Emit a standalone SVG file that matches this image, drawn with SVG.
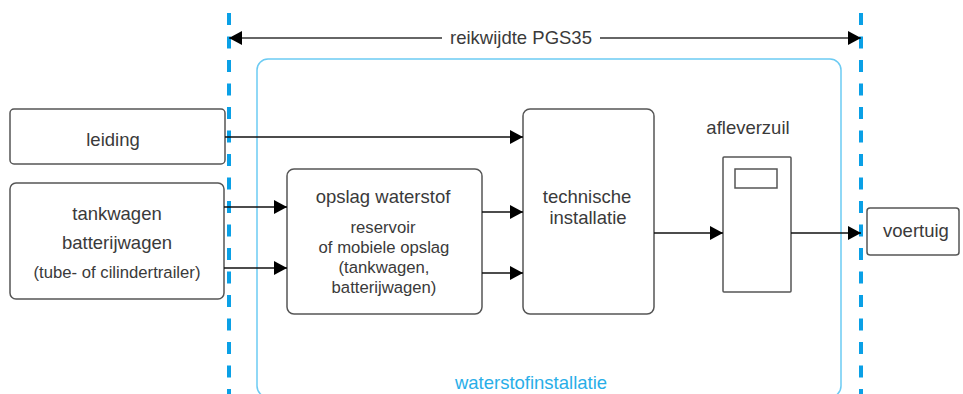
<svg xmlns="http://www.w3.org/2000/svg" width="963" height="394" viewBox="0 0 963 394">
  <style>
    .box { fill: #ffffff; stroke: #555555; stroke-width: 1.5; }
    .lbl { font-family: "Liberation Sans", Arial, sans-serif; font-size: 18.5px; fill: #3a3a3a; text-anchor: middle; }
    .sub { font-family: "Liberation Sans", Arial, sans-serif; font-size: 16.7px; fill: #3a3a3a; text-anchor: middle; }
    .flow { stroke: #111111; stroke-width: 1.5; fill: none; marker-end: url(#head); }
    .scope { stroke: #0aa0e6; stroke-width: 4; stroke-dasharray: 12 11.5; fill: none; }
  </style>
  <defs>
    <marker id="head" markerUnits="userSpaceOnUse" markerWidth="13" markerHeight="14" refX="13" refY="7" orient="auto-start-reverse">
      <path d="M0,0 L13,7 L0,14 z" fill="#000000"/>
    </marker>
  </defs>

  <rect width="963" height="394" fill="#ffffff"/>

  <!-- installation boundary -->
  <g id="waterstofinstallatie">
    <rect x="257" y="59" width="584" height="338" rx="11" fill="none" stroke="#6ccbf3" stroke-width="1.5"/>
    <text x="531" y="389" font-family="Liberation Sans, Arial, sans-serif" font-size="18.5" fill="#29aee8" text-anchor="middle">waterstofinstallatie</text>
  </g>

  <!-- scope markers -->
  <g id="scope">
    <line class="scope" x1="229" y1="13" x2="229" y2="394"/>
    <line class="scope" x1="861" y1="13" x2="861" y2="394"/>
    <line x1="229" y1="38" x2="861" y2="38" stroke="#333333" stroke-width="1.5" marker-start="url(#head)" marker-end="url(#head)"/>
    <rect x="442" y="26" width="158" height="24" fill="#ffffff"/>
    <text class="lbl" x="521" y="44">reikwijdte PGS35</text>
  </g>

  <g id="leiding">
    <rect class="box" x="10" y="109" width="215" height="55" rx="4"/>
    <text class="lbl" x="113" y="146">leiding</text>
  </g>

  <g id="tankwagen">
    <rect class="box" x="10" y="183" width="214" height="116" rx="6"/>
    <text class="lbl" x="117" y="220">tankwagen</text>
    <text class="lbl" x="117" y="249">batterijwagen</text>
    <text class="sub" x="117" y="278">(tube- of cilindertrailer)</text>
  </g>

  <g id="opslag">
    <rect class="box" x="287" y="169" width="195" height="145" rx="7"/>
    <text class="lbl" x="383" y="203">opslag waterstof</text>
    <text class="sub" x="383" y="233">reservoir</text>
    <text class="sub" x="384" y="253">of mobiele opslag</text>
    <text class="sub" x="384" y="273">(tankwagen,</text>
    <text class="sub" x="384" y="293">batterijwagen)</text>
  </g>

  <g id="technische-installatie">
    <rect class="box" x="523" y="109" width="131" height="205" rx="7"/>
    <text class="lbl" x="587" y="203">technische</text>
    <text class="lbl" x="588" y="224">installatie</text>
  </g>

  <g id="afleverzuil">
    <text class="lbl" x="748" y="134">afleverzuil</text>
    <rect class="box" x="723" y="157" width="68" height="135" rx="1"/>
    <rect x="735" y="169" width="42" height="19" fill="#ffffff" stroke="#555555" stroke-width="1.5"/>
  </g>

  <g id="voertuig">
    <rect class="box" x="867" y="208" width="92" height="47" rx="3"/>
    <text class="lbl" x="916" y="237">voertuig</text>
  </g>

  <!-- connectors -->
  <g id="connectors">
    <line class="flow" x1="225" y1="137" x2="523" y2="137"/>
    <line class="flow" x1="224" y1="207" x2="287" y2="207"/>
    <line class="flow" x1="224" y1="268" x2="287" y2="268"/>
    <line class="flow" x1="482" y1="212" x2="523" y2="212"/>
    <line class="flow" x1="482" y1="273" x2="523" y2="273"/>
    <line class="flow" x1="654" y1="233" x2="723" y2="233"/>
    <line class="flow" x1="791" y1="233" x2="861" y2="233"/>
  </g>
</svg>
